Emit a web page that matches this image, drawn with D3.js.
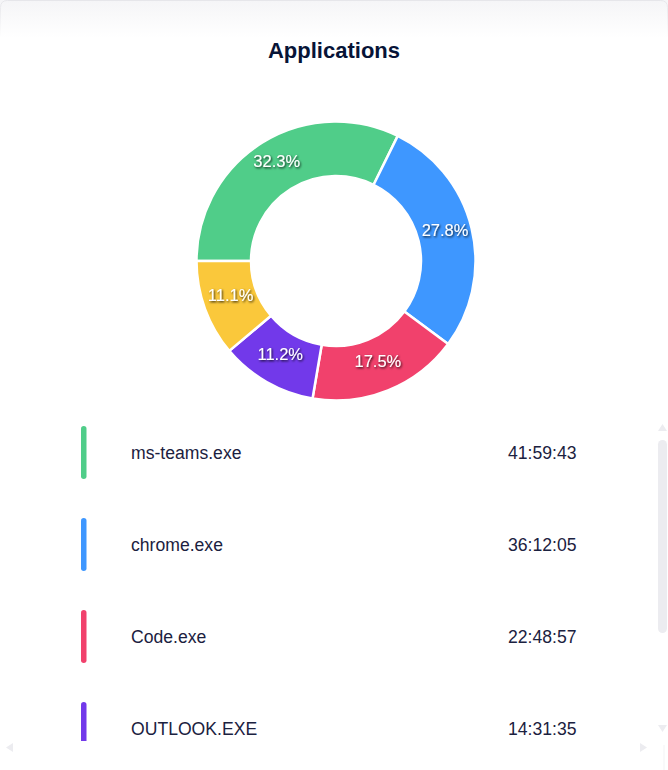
<!DOCTYPE html>
<html>
<head>
<meta charset="utf-8">
<script src="https://cdn.jsdelivr.net/npm/d3@7"></script>
<style>
  html, body { margin: 0; padding: 0; background: #ffffff; }
  svg { display: block; font-family: "Liberation Sans", Arial, Helvetica, sans-serif; }
</style>
</head>
<body>
<svg id="chart" width="668" height="770"></svg>
<script>
// ---- data ----
const titleText = "Applications";
const appNames = ["ms-teams.exe", "chrome.exe", "Code.exe", "OUTLOOK.EXE", "explorer.exe"];
const appDurations = ["41:59:43", "36:12:05", "22:48:57", "14:31:35", "14:28:50"];
const appColors = ["#50cd89", "#3e97ff", "#f1416c", "#7239ea", "#fac83b"];

// ---- helpers ----
const toSeconds = s => s.split(":").map(Number).reduce((a, v) => a * 60 + v, 0);
const data = appNames.map((n, i) => ({ name: n, dur: appDurations[i], value: toSeconds(appDurations[i]), color: appColors[i] }));
const total = d3.sum(data, d => d.value);

const W = 668, H = 770;
const svg = d3.select("#chart");
const defs = svg.append("defs");

// card top: soft gradient fading to white
const grad = defs.append("linearGradient").attr("id", "topGrad").attr("x1", 0).attr("y1", 0).attr("x2", 0).attr("y2", 1);
grad.append("stop").attr("offset", "0%").attr("stop-color", "#f5f5f7");
grad.append("stop").attr("offset", "100%").attr("stop-color", "#ffffff");
const sgrad = defs.append("linearGradient").attr("id", "edgeGrad").attr("x1", 0).attr("y1", 0).attr("x2", 0).attr("y2", 1);
sgrad.append("stop").attr("offset", "0%").attr("stop-color", "#e6e6ea");
sgrad.append("stop").attr("offset", "100%").attr("stop-color", "#ffffff");
svg.append("rect").attr("x", 0).attr("y", 0).attr("width", W).attr("height", 38).attr("fill", "url(#topGrad)");
svg.append("path").attr("d", `M0.5,38 L0.5,7.5 Q0.5,0.5 7.5,0.5 L${W - 7.5},0.5 Q${W - 0.5},0.5 ${W - 0.5},7.5 L${W - 0.5},38`)
  .attr("fill", "none").attr("stroke", "url(#edgeGrad)").attr("stroke-width", 1);

// text shadow filter
const f = defs.append("filter").attr("id", "tshadow").attr("x", "-20%").attr("y", "-40%").attr("width", "140%").attr("height", "180%");
f.append("feDropShadow").attr("dx", 1).attr("dy", 1.2).attr("stdDeviation", 1.2)
  .attr("flood-color", "#000").attr("flood-opacity", 0.85);

// title
svg.append("text").attr("x", 334).attr("y", 58).attr("text-anchor", "middle")
  .attr("font-size", 22).attr("font-weight", "bold").attr("fill", "#071437").text(titleText);

// donut
const cx = 336, cy = 261, rOuter = 139.5, rInner = 85;
const pie = d3.pie().sort(null).value(d => d.value).startAngle(-Math.PI / 2).endAngle(1.5 * Math.PI);
const arc = d3.arc().innerRadius(rInner).outerRadius(rOuter);
const labelArc = d3.arc().innerRadius((rInner + rOuter) / 2).outerRadius((rInner + rOuter) / 2);
const arcs = pie(data);
const g = svg.append("g").attr("transform", `translate(${cx},${cy})`);
g.selectAll("path.slice").data(arcs).join("path").attr("class", "slice")
  .attr("d", arc).attr("fill", d => d.data.color).attr("stroke", "#ffffff").attr("stroke-width", 2.5)
  .attr("stroke-linejoin", "round");
const fmt = d3.format(".1f");
g.selectAll("text.lbl").data(arcs).join("text").attr("class", "lbl")
  .attr("x", d => labelArc.centroid(d)[0])
  .attr("y", d => labelArc.centroid(d)[1] - 4.5)
  .attr("text-anchor", "middle").attr("dominant-baseline", "central")
  .attr("font-size", 16.5).attr("fill", "#ffffff").attr("filter", "url(#tshadow)")
  .text(d => fmt(d.data.value / total * 100) + "%");

// legend (scroll viewport: only rows that fit in the visible area are drawn)
const viewTop = 412, viewBottom = 741;
const clip = defs.append("clipPath").attr("id", "legClip");
clip.append("rect").attr("x", 0).attr("y", viewTop).attr("width", 656).attr("height", viewBottom - viewTop);
const leg = svg.append("g").attr("clip-path", "url(#legClip)");
const rowY = d3.scaleLinear().domain([0, 1]).range([452.5, 544.5]);
const visible = data.filter((d, i) => rowY(i) - 26.5 < viewBottom);
const rows = leg.selectAll("g.row").data(visible).join("g").attr("class", "row")
  .attr("transform", (d, i) => `translate(0,${rowY(i)})`);
rows.append("rect").attr("x", 81).attr("y", -26.5).attr("width", 5.5).attr("height", 53).attr("rx", 2.75)
  .attr("fill", d => d.color);
rows.append("text").attr("x", 131).attr("y", 0).attr("dominant-baseline", "central")
  .attr("font-size", 17.6).attr("fill", "#1b2140").text(d => d.name);
rows.append("text").attr("x", 508).attr("y", 0).attr("dominant-baseline", "central")
  .attr("font-size", 17.6).attr("fill", "#1b2140").text(d => d.dur);

// scrollbars (decoration)
const sbCol = "#ececf0";
svg.append("path").attr("d", "M658,431 L662.5,424 L667,431 Z").attr("fill", sbCol);
svg.append("rect").attr("x", 658).attr("y", 440).attr("width", 9).attr("height", 193).attr("rx", 4.5).attr("fill", sbCol);
svg.append("path").attr("d", "M658,725 L662.5,732 L667,725 Z").attr("fill", sbCol);
svg.append("path").attr("d", "M13,743 L6,747.5 L13,752 Z").attr("fill", sbCol);
svg.append("path").attr("d", "M640,743 L647,747.5 L640,752 Z").attr("fill", sbCol);
svg.append("rect").attr("x", 663.5).attr("y", 745).attr("width", 1).attr("height", 25).attr("fill", "#f3f3f5");
</script>
</body>
</html>
